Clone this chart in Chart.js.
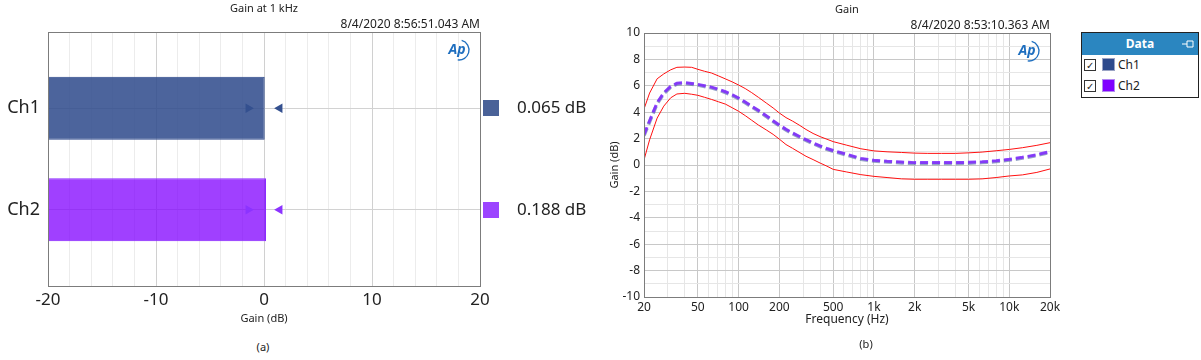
<!DOCTYPE html>
<html>
<head>
<meta charset="utf-8">
<title>Gain</title>
<script src="https://cdn.jsdelivr.net/npm/chart.js@4.4.1/dist/chart.umd.min.js"></script>
<style>
    body {
        margin: 0;
        width: 1201px;
        height: 360px;
        background: #fff;
        position: relative;
        overflow: hidden;
        font-family: "Noto Sans", "Open Sans", sans-serif;
        color: #222;
    }
    #chartA { position: absolute; left: 0; top: 0; }
    #chartB { position: absolute; left: 595px; top: 0; }
    .cap {
        position: absolute;
        font-size: 11px;
        transform: translate(-50%, -50%);
        white-space: nowrap;
    }
    #legend {
        position: absolute;
        left: 1081px;
        top: 32px;
        width: 116px;
        border: 1px solid #222;
        background: #fff;
        font-size: 12px;
    }
    #legend .head {
        position: relative;
        height: 22px;
        line-height: 22px;
        background: #2b86c0;
        color: #fff;
        font-weight: bold;
        text-align: center;
    }
    #legend .pin { position: absolute; right: 4px; top: 7px; }
    #legend .row { position: relative; height: 21px; }
    #legend .chk {
        position: absolute;
        left: 2px;
        top: 4px;
        width: 10px;
        height: 10px;
        border: 1px solid #333;
        font-size: 10px;
        line-height: 10px;
        text-align: center;
    }
    #legend .sw {
        position: absolute;
        left: 20px;
        top: 3px;
        width: 11px;
        height: 11px;
        border: 1px solid #9aa3c4;
    }
    #legend .lbl { position: absolute; left: 36px; top: 0; line-height: 19px; }
</style>
</head>
<body>
<canvas id="chartA" width="600" height="335"></canvas>
<canvas id="chartB" width="475" height="335"></canvas>
<div class="cap" style="left:263px; top:346px;">(a)</div>
<div class="cap" style="left:866px; top:343px;">(b)</div>

<div id="legend">
    <div class="head">Data
        <svg class="pin" width="12" height="8"><path d="M0 4 H5 M5 1 H11 V7 H5 Z" stroke="#fff" fill="none" stroke-width="1"/></svg>
    </div>
    <div class="row"><div class="chk">&#10003;</div><div class="sw" style="background:#2e4a8c"></div><div class="lbl">Ch1</div></div>
    <div class="row"><div class="chk">&#10003;</div><div class="sw" style="background:#8000ff;border-color:#b28bf0"></div><div class="lbl">Ch2</div></div>
</div>

<script>
// (a) gain at 1 kHz
const chNames = ['Ch1', 'Ch2'];
const gainAt1k = [0.065, 0.188];
const limitLow = [-1.45, -1.45];
const limitHigh = [1.45, 1.45];
const barColors = ['rgba(46, 74, 140, 0.86)', 'rgba(128, 0, 255, 0.75)'];
const barBorders = ['#2e4a8c', '#8a2cff'];
const markColors = ['#34508f', '#8c33ff'];
const swatchColors = ['#4a6298', '#9c45ff'];

// (b) gain vs frequency
const freqHz = [20, 22, 25, 28, 31.5, 35, 40, 45, 50, 56, 63, 71, 80, 90, 100, 112, 125, 140, 160, 180,
    200, 224, 250, 280, 315, 355, 400, 450, 500, 630, 800, 1000, 1250, 1600, 2000, 2500, 3150, 4000, 5000, 6300,
    8000, 10000, 12500, 16000, 20000];
const upperLimit = [4.24, 5.45, 6.53, 6.9, 7.21, 7.4, 7.42, 7.4, 7.25, 7.1, 6.97, 6.75, 6.52, 6.29, 6.06, 5.79, 5.48, 5.13, 4.7, 4.32,
    3.94, 3.59, 3.33, 3.03, 2.69, 2.39, 2.15, 1.95, 1.77, 1.5, 1.23, 1.07, 1.0, 0.95, 0.9, 0.88, 0.88, 0.88, 0.92, 0.98,
    1.08, 1.18, 1.31, 1.49, 1.69];
const ch1Gain = [2.22, 3.27, 4.64, 5.4, 5.9, 6.13, 6.18, 6.12, 6.05, 5.95, 5.84, 5.68, 5.49, 5.26, 5.02, 4.71, 4.4, 4.08, 3.68, 3.29,
    2.97, 2.65, 2.37, 2.12, 1.86, 1.62, 1.39, 1.19, 1.04, 0.75, 0.44, 0.3, 0.22, 0.16, 0.12, 0.12, 0.12, 0.12, 0.14, 0.18,
    0.26, 0.37, 0.52, 0.72, 0.96];
const ch2Gain = [2.3, 3.35, 4.72, 5.47, 5.96, 6.19, 6.24, 6.18, 6.11, 6.01, 5.9, 5.74, 5.55, 5.32, 5.08, 4.77, 4.46, 4.14, 3.74, 3.35,
    3.03, 2.71, 2.43, 2.18, 1.92, 1.68, 1.45, 1.25, 1.1, 0.81, 0.5, 0.36, 0.28, 0.22, 0.18, 0.18, 0.18, 0.18, 0.2, 0.24,
    0.32, 0.43, 0.58, 0.78, 1.02];
const lowerLimit = [0.38, 1.91, 3.55, 4.46, 5.09, 5.38, 5.43, 5.36, 5.28, 5.13, 4.97, 4.79, 4.61, 4.33, 4.07, 3.74, 3.39, 3.03, 2.66, 2.32,
    1.96, 1.55, 1.27, 0.97, 0.66, 0.41, 0.15, -0.09, -0.33, -0.53, -0.73, -0.86, -0.95, -1.05, -1.08, -1.08, -1.08, -1.08, -1.08, -1.05,
    -0.95, -0.83, -0.75, -0.56, -0.3];
const freqTicks = [20, 50, 100, 200, 500, 1000, 2000, 5000, 10000, 20000];
const freqTickLabels = ['20', '50', '100', '200', '500', '1k', '2k', '5k', '10k', '20k'];

const FONT = '"Noto Sans", "Open Sans", sans-serif';
Chart.defaults.font.family = FONT;
Chart.defaults.color = '#222';
Chart.defaults.animation = false;

function drawApLogo(ctx, x, y) {
    ctx.save();
    ctx.fillStyle = '#1f6fbf';
    ctx.strokeStyle = '#1f6fbf';
    ctx.font = 'italic bold 14px ' + FONT;
    ctx.textAlign = 'center';
    ctx.textBaseline = 'middle';
    ctx.fillText('Ap', x - 1, y);
    ctx.lineWidth = 1.3;
    ctx.beginPath();
    ctx.arc(x + 1, y, 10, -1.3, 1.7);
    ctx.stroke();
    ctx.restore();
}

// plot frame + logo, both charts
const framePlugin = {
    id: 'framePlugin',
    afterDatasetsDraw(chart) {
        const ctx = chart.ctx;
        const a = chart.chartArea;
        ctx.save();
        ctx.strokeStyle = '#7c7c7c';
        ctx.lineWidth = 1;
        ctx.strokeRect(Math.round(a.left) + 0.5, Math.round(a.top) + 0.5,
            Math.round(a.right) - Math.round(a.left), Math.round(a.bottom) - Math.round(a.top));
        ctx.restore();
        drawApLogo(ctx, a.right - 22, a.top + 18);
    }
};

// swatch + value text right of the bars
const valuePlugin = {
    id: 'valuePlugin',
    afterDraw(chart) {
        const ctx = chart.ctx;
        const a = chart.chartArea;
        const yScale = chart.scales.y;
        ctx.save();
        ctx.font = '17px ' + FONT;
        ctx.textBaseline = 'middle';
        ctx.textAlign = 'left';
        gainAt1k.forEach(function (v, i) {
            const y = yScale.getPixelForValue(i);
            ctx.fillStyle = swatchColors[i];
            ctx.fillRect(a.right + 3, Math.round(y) - 8, 16, 16);
            ctx.fillStyle = '#222';
            ctx.fillText(v.toFixed(3) + ' dB', a.right + 37, y);
        });
        ctx.restore();
    }
};

function createGainBars() {
    const ctx = document.getElementById('chartA').getContext('2d');
    new Chart(ctx, {
        data: {
            datasets: [{
                    type: 'scatter',
                    data: limitLow.map((v, i) => ({x: v, y: i})),
                    pointStyle: 'triangle',
                    rotation: 90,
                    pointRadius: 5.5,
                    pointBackgroundColor: markColors,
                    pointBorderWidth: 0,
                    order: 1
                }, {
                    type: 'scatter',
                    data: limitHigh.map((v, i) => ({x: v, y: i})),
                    pointStyle: 'triangle',
                    rotation: 270,
                    pointRadius: 5.5,
                    pointBackgroundColor: markColors,
                    pointBorderWidth: 0,
                    order: 1
                }, {
                    type: 'bar',
                    data: gainAt1k.map((v, i) => ({x: [-20, v], y: i})),
                    backgroundColor: barColors,
                    borderColor: barBorders,
                    borderWidth: 1,
                    borderSkipped: false,
                    grouped: false,
                    barPercentage: 0.62,
                    categoryPercentage: 1,
                    order: 2
                }]
        },
        options: {
            indexAxis: 'y',
            responsive: false,
            layout: {padding: {left: 0, right: 120, top: 0.4, bottom: 0}},
            plugins: {
                legend: {display: false},
                tooltip: {enabled: false},
                title: {
                    display: true,
                    text: 'Gain at 1 kHz',
                    fullSize: false,
                    font: {size: 11, weight: 'normal'},
                    padding: {top: 2, bottom: 2}
                },
                subtitle: {
                    display: true,
                    text: '8/4/2020 8:56:51.043 AM',
                    align: 'end',
                    fullSize: false,
                    font: {size: 12},
                    padding: {top: 0, bottom: 0}
                }
            },
            scales: {
                x: {
                    type: 'linear',
                    min: -20,
                    max: 20,
                    offset: false,
                    border: {display: false},
                    grid: {
                        offset: false,
                        drawTicks: false,
                        color: c => c.tick.value % 10 === 0 ? '#d0d0d0' : '#ececec'
                    },
                    ticks: {
                        stepSize: 2,
                        autoSkip: false,
                        maxRotation: 0,
                        padding: 4,
                        font: {size: 17},
                        callback: v => v % 10 === 0 ? String(v) : ''
                    },
                    title: {display: true, text: 'Gain (dB)', font: {size: 11}, padding: {top: 2, bottom: 9.4}},
                    afterFit: s => { s.height = 49; }
                },
                y: {
                    type: 'linear',
                    reverse: true,
                    min: -0.75,
                    max: 1.75,
                    offset: false,
                    grace: 0,
                    border: {display: false},
                    grid: {offset: false, drawTicks: false, color: '#d2d2d2'},
                    afterBuildTicks: s => { s.ticks = chNames.map((n, i) => ({value: i})); },
                    ticks: {
                        padding: 8,
                        font: {size: 18},
                        callback: v => chNames[v]
                    },
                    afterFit: s => { s.width = 48; }
                }
            }
        },
        plugins: [framePlugin, valuePlugin]
    });
}

function createResponse() {
    const gridFreqs = [];
    [10, 100, 1000, 10000].forEach(dec => {
        for (let k = 1; k <= 9; k++) {
            const f = dec * k;
            if (f >= 20 && f <= 20000) gridFreqs.push(f);
        }
    });
    const pts = arr => freqHz.map((f, i) => ({x: f, y: arr[i]}));

    const ctx = document.getElementById('chartB').getContext('2d');
    new Chart(ctx, {
        type: 'line',
        data: {
            datasets: [{
                    label: 'Ch2',
                    data: pts(ch2Gain),
                    borderColor: 'rgba(128, 40, 255, 0.85)',
                    borderWidth: 3,
                    borderDash: [8, 4],
                    pointRadius: 0,
                    order: 0
                }, {
                    label: 'Ch1',
                    data: pts(ch1Gain),
                    borderColor: 'rgba(80, 105, 160, 0.6)',
                    borderWidth: 3.5,
                    borderDash: [8, 4],
                    pointRadius: 0,
                    order: 1
                }, {
                    label: 'Upper',
                    data: pts(upperLimit),
                    borderColor: '#ff1010',
                    borderWidth: 1,
                    pointRadius: 0,
                    order: 2
                }, {
                    label: 'Lower',
                    data: pts(lowerLimit),
                    borderColor: '#ff1010',
                    borderWidth: 1,
                    pointRadius: 0,
                    order: 2
                }]
        },
        options: {
            responsive: false,
            layout: {padding: {left: 10, right: 20, top: 1.4, bottom: 0}},
            plugins: {
                legend: {display: false},
                tooltip: {enabled: false},
                title: {
                    display: true,
                    text: 'Gain',
                    fullSize: false,
                    font: {size: 11, weight: 'normal'},
                    padding: {top: 2, bottom: 2}
                },
                subtitle: {
                    display: true,
                    text: '8/4/2020 8:53:10.363 AM',
                    align: 'end',
                    fullSize: false,
                    font: {size: 12},
                    padding: {top: 0, bottom: 0}
                }
            },
            scales: {
                x: {
                    type: 'logarithmic',
                    min: 20,
                    max: 20000,
                    border: {display: false},
                    afterBuildTicks: s => { s.ticks = gridFreqs.map(f => ({value: f})); },
                    grid: {
                        drawTicks: false,
                        color: c => freqTicks.includes(c.tick.value) ? '#c8c8c8' : '#e6e6e6'
                    },
                    ticks: {
                        autoSkip: false,
                        maxRotation: 0,
                        padding: 3.5,
                        font: {size: 12},
                        callback: v => {
                            const k = freqTicks.indexOf(v);
                            return k >= 0 ? freqTickLabels[k] : '';
                        }
                    },
                    title: {display: true, text: 'Frequency (Hz)', font: {size: 12}, padding: {top: 0, bottom: 7.8}},
                    afterFit: s => { s.height = 38; }
                },
                y: {
                    min: -10,
                    max: 10,
                    border: {display: false},
                    grid: {
                        drawTicks: false,
                        color: c => c.tick.value % 2 === 0 ? '#c8c8c8' : '#e6e6e6'
                    },
                    ticks: {
                        stepSize: 1,
                        autoSkip: false,
                        padding: 4,
                        font: {size: 12},
                        callback: v => v % 2 === 0 ? String(v) : ''
                    },
                    title: {display: true, text: 'Gain (dB)', font: {size: 11}, padding: {top: 3.4, bottom: 0}},
                    afterFit: s => { s.width = 39; }
                }
            }
        },
        plugins: [framePlugin]
    });
}

window.onload = function () {
    createGainBars();
    createResponse();
};
</script>
</body>
</html>
